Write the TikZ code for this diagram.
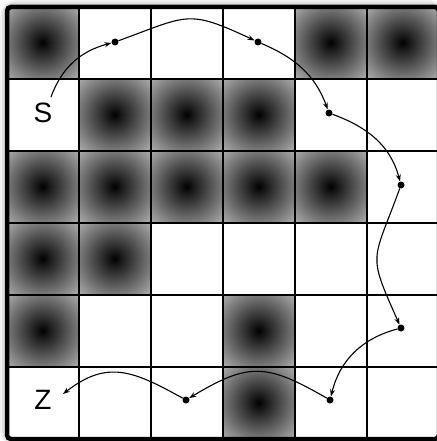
\documentclass[tikz,border=0pt]{standalone}
\usepackage{fontspec}
\setmainfont{Liberation Sans}
\usetikzlibrary{arrows.meta}
\tikzset{
  gridline/.style={line width=2.6pt, black},
  frameline/.style={line width=4.5pt, black, rounded corners=4pt},
  dot/.style={circle, fill=black, inner sep=0pt, minimum size=7pt},
  link/.style={line width=1.1pt, -{Stealth[length=7pt,width=5pt]}},
  lbl/.style={font=\fontsize{28}{30}\selectfont, inner sep=0pt}
}
\begin{document}
\begin{tikzpicture}[x=1pt,y=1pt]
\useasboundingbox (0,0) rectangle (436,-441);
\fill[white] (0,0) rectangle (436,-441);
\draw[black!6, line width=14pt, rounded corners=10pt] (7,-7) rectangle (439,-439);
\draw[black!12, line width=10pt, rounded corners=8pt] (7,-7) rectangle (439,-439);
\fill[white] (7,-7) rectangle (439,-439);
\foreach \c/\r in {0/0,4/0,5/0,1/1,2/1,3/1,0/2,1/2,2/2,3/2,4/2,0/3,1/3,0/4,3/4,3/5} {
  \begin{scope}
    \clip ({7+72*\c},{-7-72*\r}) rectangle ++(72,-72);
    \foreach \k in {51,50,...,1} {
      \pgfmathsetmacro\w{68*\k/51}
      \fill[white!\w!black] ({43+72*\c},{-43-72*\r}) circle (\k);
    }
  \end{scope}
}
\foreach \i in {1,...,5} {
  \draw[gridline] ({7+72*\i},-7) -- ({7+72*\i},-439);
  \draw[gridline] (7,{-7-72*\i}) -- (439,{-7-72*\i});
}
\draw[frameline] (7,-7) rectangle (439,-439);
\node[lbl] (S) at (43,-113) {S};
\node[lbl] (Z) at (43,-400) {Z};
\coordinate (s0) at (51,-97);
\coordinate (z0) at (63,-394);
\node[dot] (p1) at (115,-42) {};
\node[dot] (p2) at (258,-42) {};
\node[dot] (p3) at (329,-113) {};
\node[dot] (p4) at (401,-185) {};
\node[dot] (p5) at (401,-328) {};
\node[dot] (p6) at (330,-400) {};
\node[dot] (p7) at (186,-400) {};
\draw[link] (s0) to[out=70,in=195] (p1);
\draw[link] (p1) to[out=20,in=155,looseness=1.4] (p2);
\draw[link] (p2) to[out=-23,in=110] (p3);
\draw[link] (p3) to[out=-20,in=105] (p4);
\draw[link] (p4) to[out=250,in=114,looseness=1.5] (p5);
\draw[link] (p5) to[out=195,in=76] (p6);
\draw[link] (p6) to[out=150,in=31,looseness=1.3] (p7);
\draw[link] (p7) to[out=151,in=38,looseness=1.2] (z0);
\end{tikzpicture}
\end{document}
